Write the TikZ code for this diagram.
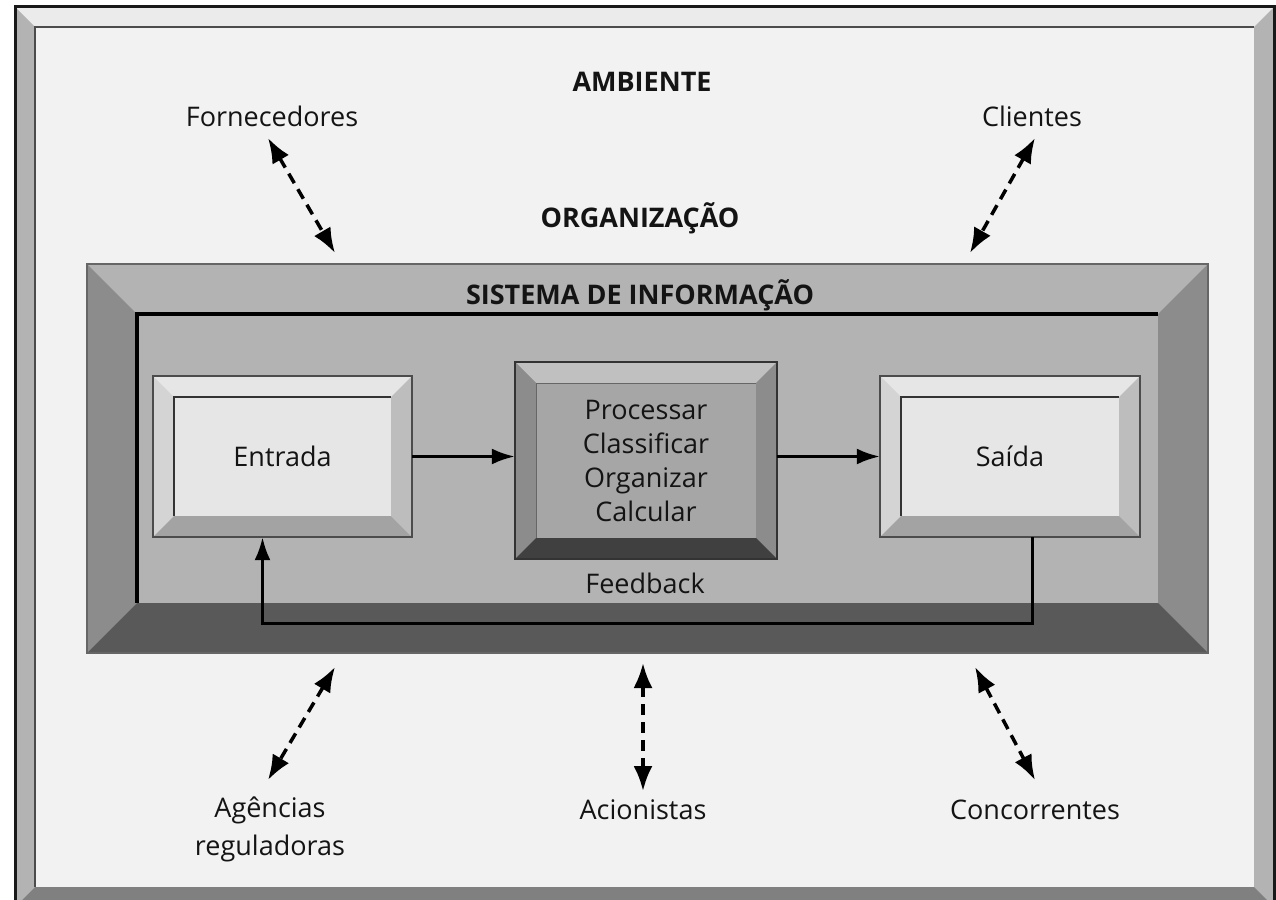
\documentclass[tikz,border=0pt]{standalone}
\usepackage{fontspec}
\setmainfont{Open Sans}
\usetikzlibrary{arrows.meta}

\definecolor{frameface}{HTML}{F2F2F2}
\definecolor{frametop}{HTML}{EBEBEB}
\definecolor{frameside}{HTML}{B3B3B3}
\definecolor{framebot}{HTML}{808080}
\definecolor{sisface}{HTML}{B3B3B3}
\definecolor{sisside}{HTML}{8C8C8C}
\definecolor{sisbot}{HTML}{595959}
\definecolor{ioface}{HTML}{E6E6E6}
\definecolor{ioleft}{HTML}{D4D4D4}
\definecolor{ioright}{HTML}{BDBDBD}
\definecolor{iobot}{HTML}{A3A3A3}
\definecolor{procface}{HTML}{A6A6A6}
\definecolor{proctop}{HTML}{C0C0C0}
\definecolor{procside}{HTML}{8C8C8C}
\definecolor{procbot}{HTML}{404040}

% bevelled frame: #1,#2 upper left, #3,#4 lower right, #5 depth, #6 look
\newcommand{\bevelbox}[6]{%
  \fill[#6 face] (#1,#2) rectangle (#3,#4);
  \fill[#6 top] (#1,#2) -- (#3,#2) -- (#3-#5,#2+#5) -- (#1+#5,#2+#5) -- cycle;
  \fill[#6 left] (#1,#2) -- (#1+#5,#2+#5) -- (#1+#5,#4-#5) -- (#1,#4) -- cycle;
  \fill[#6 right] (#3,#2) -- (#3,#4) -- (#3-#5,#4-#5) -- (#3-#5,#2+#5) -- cycle;
  \fill[#6 bottom] (#1,#4) -- (#3,#4) -- (#3-#5,#4-#5) -- (#1+#5,#4-#5) -- cycle;
  \draw[#6 edge] (#1+#5,#4-#5) -- (#1+#5,#2+#5) -- (#3-#5,#2+#5);
  \draw[#6 rim] (#1,#2) rectangle (#3,#4);
}

\tikzset{
  amb face/.style={fill=frameface}, amb top/.style={fill=frametop},
  amb left/.style={fill=frameside}, amb right/.style={fill=frameside},
  amb bottom/.style={fill=framebot},
  amb edge/.style={draw=black!70, line width=1.5pt},
  amb rim/.style={draw=black!90, line width=3pt},
  sis face/.style={fill=sisface}, sis top/.style={fill=sisface},
  sis left/.style={fill=sisside}, sis right/.style={fill=sisside},
  sis bottom/.style={fill=sisbot},
  sis edge/.style={draw=black, line width=3.5pt},
  sis rim/.style={draw=black!60, line width=1.5pt},
  io face/.style={fill=ioface}, io top/.style={fill=ioface},
  io left/.style={fill=ioleft}, io right/.style={fill=ioright},
  io bottom/.style={fill=iobot},
  io edge/.style={draw=black!80, line width=1.5pt},
  io rim/.style={draw=black!70, line width=1.5pt},
  proc face/.style={fill=procface}, proc top/.style={fill=proctop},
  proc left/.style={fill=procside}, proc right/.style={fill=procside},
  proc bottom/.style={fill=procbot},
  proc edge/.style={draw=black!60, line width=1pt},
  proc rim/.style={draw=black!80, line width=1.5pt}
}

\begin{document}
\begin{tikzpicture}[x=1pt, y=-1pt,
    font=\fontsize{27}{34}\selectfont, text=black!92,
    lbl/.style={inner sep=2pt, align=center},
    head/.style={lbl, font=\fontsize{27}{34}\selectfont\bfseries},
    box/.style={inner sep=0pt, align=center},
    flow/.style={line width=3pt, -{Latex[length=23pt, width=16pt]}},
    link/.style={line width=3.5pt, dash pattern=on 11pt off 7pt,
      {Latex[length=25pt, width=19pt]}-{Latex[length=25pt, width=19pt]}}]
\useasboundingbox (0,0) rectangle (1276,899);

% Environment and organization
\bevelbox{15}{7}{1274}{907}{20}{amb}
\node[head] (amb) at (642,82) {AMBIENTE};
\node[head] (org) at (640,218) {ORGANIZAÇÃO};

% Information system
\bevelbox{87}{264}{1208}{653}{50}{sis}
\node[head] (sis) at (640,295) {SISTEMA DE INFORMAÇÃO};

\bevelbox{153}{376}{412}{537}{21}{io}
\bevelbox{515}{362}{777}{559}{21}{proc}
\bevelbox{880}{376}{1140}{537}{21}{io}
\node[box, minimum width=259, minimum height=161] (entrada) at (282.5,456.5) {Entrada};
\node[box, minimum width=262, minimum height=197] (proc) at (646,460.5)
  {Processar\\Classificar\\Organizar\\Calcular};
\node[box, minimum width=260, minimum height=161] (saida) at (1010,456.5) {Saída};

\draw[flow] (entrada.east) -- (entrada.east -| proc.west);
\draw[flow] (saida.west -| proc.east) -- (saida.west);

% Feedback
\coordinate (fbk) at (645,623);
\node[lbl] (fbtxt) at (645,583) {Feedback};
\draw[flow] ([xshift=22pt]saida.south) |- (fbk) -| ([xshift=-20pt]entrada.south);

% Actors of the environment
\node[lbl] (forn) at (272,116) {Fornecedores};
\node[lbl] (cli) at (1032,116) {Clientes};
\node[lbl, font=\fontsize{27}{38}\selectfont] (agen) at (270,829) {Agências\\reguladoras};
\node[lbl] (acio) at (643,810) {Acionistas};
\node[lbl] (conc) at (1035,810) {Concorrentes};

\foreach \n/\xa/\ya/\xb/\yb in {forn/268/138/335/253, cli/1035/138/970/253,
    agen/335/667/268/780, acio/643/663/643/791, conc/975/667/1035/780} {
  \coordinate (\n A) at (\xa,\ya);
  \coordinate (\n B) at (\xb,\yb);
  \draw[link] (\n A) -- (\n B);
}
\end{tikzpicture}
\end{document}
